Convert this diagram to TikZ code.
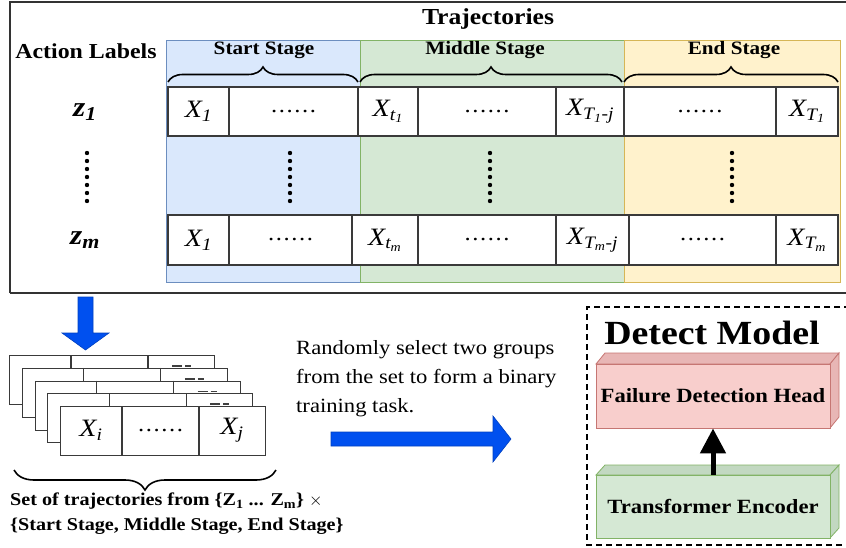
\documentclass[tikz,border=0pt]{standalone}
\usepackage{fontspec}
\usepackage{amsmath}
\setmainfont[FakeStretch=1.12]{Liberation Serif}
\usetikzlibrary{decorations.pathreplacing,arrows.meta,calc}
\definecolor{blueF}{HTML}{DAE8FC}
\definecolor{blueD}{HTML}{6C8EBF}
\definecolor{greenF}{HTML}{D5E8D4}
\definecolor{greenD}{HTML}{82B366}
\definecolor{greenS}{HTML}{C2D8C1}
\definecolor{yellowF}{HTML}{FFF2CC}
\definecolor{yellowD}{HTML}{D6B656}
\definecolor{redF}{HTML}{F8CECC}
\definecolor{redD}{HTML}{B85450}
\definecolor{redS}{HTML}{E8B6B5}
\definecolor{arrowB}{HTML}{0050EF}
\definecolor{cellc}{HTML}{3A3A3A}
\newcommand\fs[1]{\fontsize{#1}{#1}\selectfont}
\newcommand\fsb[2]{\fontsize{#1}{#2}\selectfont}
\newcommand\Xsub[1]{$\textit{X}_{#1}$}
\newcommand\ti[1]{\textit{#1}}
\newcommand\sixdots{{\fontsize{22}{22}\selectfont .\kern1.6pt.\kern1.6pt.\kern1.6pt.\kern1.6pt.\kern1.6pt.}}
\newcommand\cellbox[6]{\node[cellst, minimum width={(#3-#2)*1pt}, minimum height={(#5-#4)*1pt}] (#1) at ({(#2+#3)/2},{(#4+#5)/2}) {#6};}
\begin{document}
\begin{tikzpicture}[x=1pt,y=-1pt,
  cellst/.style={draw=cellc, line width=1.1pt, fill=white, inner sep=0pt, font=\fs{25}},
  stagebox/.style={line width=0.9pt},
  stagelbl/.style={font=\bfseries\fs{18.9}, inner sep=0pt},
  bracest/.style={decorate, line width=1.6pt, decoration={brace, amplitude=#1}},
  cardst/.style={draw=cellc, line width=1.1pt, fill=white, inner sep=0pt, minimum width=205pt, minimum height=49pt, anchor=north west},
  vdot/.style={fill=black, circle, inner sep=0pt, minimum size=4.4pt},
  blockarrow/.style={fill=arrowB, draw=arrowB!80!black, line width=0.6pt},
  facefront/.style={line width=0.9pt},
]
\useasboundingbox (0,0) rectangle (846,548);

% outer frame of the top panel
\draw[line width=1.2pt, draw=black!80] (10,293) -- (10,2) -- (850,2);
\draw[line width=1.2pt, draw=black!80] (10,293) -- (850,293);

% stage backgrounds
\path[stagebox, fill=blueF, draw=blueD] (166,40) rectangle (360,282);
\path[stagebox, fill=greenF, draw=greenD] (360,40) rectangle (624,282);
\path[stagebox, fill=yellowF, draw=yellowD] (624,40) rectangle (840,282);

% titles
\node[font=\bfseries\fs{22.9}, inner sep=0pt] (traj) at (488,19) {Trajectories};
\node[font=\bfseries\fs{21.3}, inner sep=0pt] (actl) at (86,51) {Action Labels};
\node[stagelbl] (sst) at (264,50) {Start Stage};
\node[stagelbl] (mst) at (485,50) {Middle Stage};
\node[stagelbl] (est) at (734,50) {End Stage};

% braces
\coordinate (b1a) at (168,82); \coordinate (b1b) at (358,82);
\coordinate (b2a) at (360,82); \coordinate (b2b) at (622,82);
\coordinate (b3a) at (624,82); \coordinate (b3b) at (838,82);
\draw[bracest=15pt] (b1a) -- (b1b);
\draw[bracest=15pt] (b2a) -- (b2b);
\draw[bracest=15pt] (b3a) -- (b3b);

% row 1
\cellbox{r1c1}{168}{229}{87}{136}{\Xsub{\ti{1}}}
\cellbox{r1c2}{229}{358}{87}{136}{\sixdots}
\cellbox{r1c3}{358}{418}{87}{136}{\Xsub{\ti{t}_{\ti{1}}}}
\cellbox{r1c4}{418}{556}{87}{136}{\sixdots}
\cellbox{r1c5}{556}{624}{87}{136}{\Xsub{\ti{T}_{\ti{1}}\ti{-j}}}
\cellbox{r1c6}{624}{776}{87}{136}{\sixdots}
\cellbox{r1c7}{776}{838}{87}{136}{\Xsub{\ti{T}_{\ti{1}}}}

% row m
\cellbox{rmc1}{168}{229}{215}{265}{\Xsub{\ti{1}}}
\cellbox{rmc2}{229}{352}{215}{265}{\sixdots}
\cellbox{rmc3}{352}{418}{215}{265}{\Xsub{\ti{t}_{\ti{m}}}}
\cellbox{rmc4}{418}{556}{215}{265}{\sixdots}
\cellbox{rmc5}{556}{629}{215}{265}{\Xsub{\ti{T}_{\ti{m}}\ti{-j}}}
\cellbox{rmc6}{629}{776}{215}{265}{\sixdots}
\cellbox{rmc7}{776}{838}{215}{265}{\Xsub{\ti{T}_{\ti{m}}}}

% action labels
\node[font=\fs{28}, inner sep=0pt] (z1) at (85,112) {$\textbf{\textit{z}}_{\textbf{\textit{1}}}$};
\node[font=\fs{28}, inner sep=0pt] (zm) at (85,240) {$\textbf{\textit{z}}_{\textbf{\textit{m}}}$};

% vertical dots
\foreach \xx/\nm in {87/a,290/b,490/c,732/d}{
  \foreach \k in {0,...,6}{
    \node[vdot] (dot\nm\k) at (\xx,{153+8*\k}) {};
  }
}

% blue down arrow
\path[blockarrow] (78,297) -- (93,297) -- (93,333) -- (109,333) -- (85.5,350) -- (62,333) -- (78,333) -- cycle;

% stack of trajectory cards
\foreach \k in {0,...,4}{
  \pgfmathsetmacro\ox{9+12.75*\k}
  \pgfmathsetmacro\oy{355+12.75*\k}
  \node[cardst] (card\k) at (\ox,\oy) {};
  \draw[draw=cellc, line width=1.1pt] ($(card\k.north west)+(62,0)$) -- ($(card\k.south west)+(62,0)$);
  \draw[draw=cellc, line width=1.1pt] ($(card\k.north west)+(139,0)$) -- ($(card\k.south west)+(139,0)$);
}
\foreach \k in {0,...,3}{
  \draw[line width=1.6pt, draw=black!75] ($(card\k.north west)+(163,11)$) -- ++(10,0);
  \draw[line width=1.6pt, draw=black!75] ($(card\k.north west)+(176,11)$) -- ++(6,0);
}
\node[font=\fs{25}, inner sep=0pt] (xi) at ($(card4.north west)+(31,24.5)$) {\Xsub{\ti{i}}};
\node[inner sep=0pt] (xd) at ($(card4.north west)+(100.5,24.5)$) {\sixdots};
\node[font=\fs{25}, inner sep=0pt] (xj) at ($(card4.north west)+(172,24.5)$) {\Xsub{\ti{j}}};

% bottom brace and caption
\coordinate (bba) at (14,470); \coordinate (bbb) at (276,470);
\draw[bracest=20pt, decoration={mirror}] (bba) -- (bbb);
\node[anchor=north west, inner sep=0pt, align=left, font=\bfseries\fsb{18}{25}] (cap) at (10,493)
  {Set of trajectories from \{Z\textsubscript{1} ... Z\textsubscript{m}\} $\times$\\
   \{Start Stage, Middle Stage, End Stage\}};

% middle text and arrow
\node[anchor=north west, inner sep=0pt, align=left, font=\fsb{20.2}{29}] (rtext) at (296,340)
  {Randomly select two groups\\from the set to form a binary\\training task.};
\path[blockarrow] (331,432) -- (493,432) -- (493,416) -- (511,439) -- (493,462) -- (493,446) -- (331,446) -- cycle;

% detect model
\draw[line width=1.5pt, dash pattern=on 6pt off 4pt] (850,307) -- (587,307) -- (587,545) -- (850,545);
\node[font=\bfseries\fs{33.8}, inner sep=0pt] (dm) at (712,333) {Detect Model};

% failure detection head (3D box)
\path[fill=redS, draw=redD!80, line width=0.8pt] (596,364) -- (605,353) -- (839,353) -- (830,364) -- cycle;
\path[fill=redS, draw=redD!80, line width=0.8pt] (830,364) -- (839,353) -- (839,417) -- (830,428) -- cycle;
\node[facefront, fill=redF, draw=redD!80, minimum width=234pt, minimum height=64pt, inner sep=0pt, font=\bfseries\fs{20.2}] (fdh) at (713,396) {Failure Detection Head};

% transformer encoder (3D box)
\path[fill=greenS, draw=greenD, line width=0.8pt] (596,475) -- (605,465) -- (839,465) -- (830,475) -- cycle;
\path[fill=greenS, draw=greenD, line width=0.8pt] (830,475) -- (839,465) -- (839,528) -- (830,538) -- cycle;
\node[facefront, fill=greenF, draw=greenD, minimum width=234pt, minimum height=63pt, inner sep=0pt, font=\bfseries\fs{20.2}] (te) at (713,506.5) {Transformer Encoder};

\draw[line width=5pt, -{Triangle[width=25pt,length=25pt]}] (te.north) -- (fdh.south);
\end{tikzpicture}
\end{document}
